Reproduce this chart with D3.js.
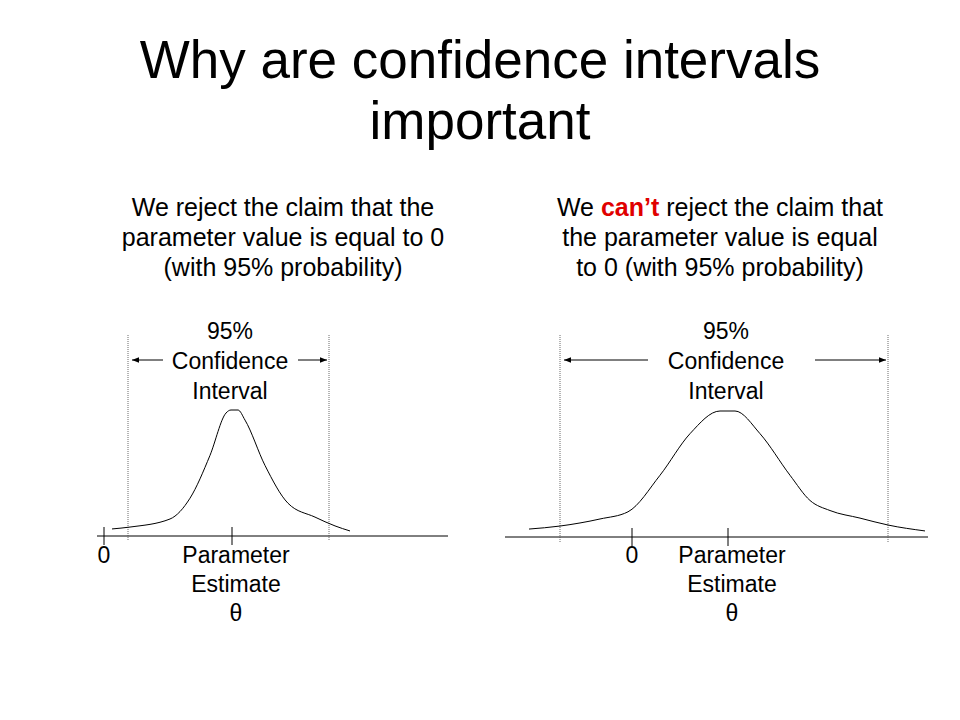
<!DOCTYPE html>
<html><head><meta charset="utf-8">
<script src="https://cdn.jsdelivr.net/npm/d3@7"></script>
<style>body{margin:0;background:#fff}text{font-family:Arial,"Liberation Sans",sans-serif;fill:#000}</style>
</head><body><div id="vis"></div>
<script>
// curve points: offset from the estimate (in tens of px units) and relative height
var leftX = [-12, -10.2, -6.2, -4.2, -2.2, -0.6, -0.1, 0.6, 1.3, 3.3, 5.6, 8.3, 10.3, 11.8];
var leftY = [0.056, 0.071, 0.135, 0.30, 0.64, 0.976, 1, 1, 0.92, 0.56, 0.26, 0.15, 0.08, 0.04];
var rightX = [-19.9, -16.8, -12.8, -10, -6.8, -3.8, -0.8, 0.7, 3.2, 6.2, 8.2, 10.2, 13.2, 16, 19.7];
var rightY = [0.063, 0.087, 0.143, 0.2, 0.49, 0.82, 1, 1, 0.82, 0.49, 0.29, 0.21, 0.15, 0.095, 0.048];
var leftCI = [-10.4, 9.7], rightCI = [-16.8, 16];
var leftZero = -12.8, rightZero = -9.6;

var svg = d3.select("#vis").append("svg").attr("width", 960).attr("height", 720);
svg.append("defs").append("marker").attr("id", "arr").attr("viewBox", "0 0 10 10")
  .attr("refX", 10).attr("refY", 5).attr("markerWidth", 9).attr("markerHeight", 7)
  .attr("markerUnits", "userSpaceOnUse").attr("orient", "auto-start-reverse")
  .append("path").attr("d", "M0,1L10,5L0,9z").attr("fill", "#000");

svg.append("text").attr("x", 480).attr("y", 78).attr("text-anchor", "middle").attr("font-size", 53).text("Why are confidence intervals");
svg.append("text").attr("x", 480).attr("y", 139).attr("text-anchor", "middle").attr("font-size", 53).text("important");

function sub(cx, lines) {
  lines.forEach(function (l, i) {
    var t = svg.append("text").attr("x", cx).attr("y", 216 + i * 30).attr("text-anchor", "middle").attr("font-size", 25);
    l.forEach(function (p) { t.append("tspan").text(p[0]).attr("font-weight", p[1] ? "bold" : null).style("fill", p[1] ? "#e00000" : null); });
  });
}
sub(283, [[["We reject the claim that the"]], [["parameter value is equal to 0"]], [["(with 95% probability)"]]]);
sub(720, [[["We "], ["can’t", 1], [" reject the claim that"]], [["the parameter value is equal"]], [["to 0 (with 95% probability)"]]]);

function panel(xs, ys, domain, range, ci, zero, base, arrowGaps) {
  var x = d3.scaleLinear().domain(domain).range(range);
  var y = d3.scaleLinear().domain([0, 1]).range([base, base - 126]);
  var g = svg.append("g");
  g.append("line").attr("x1", range[0]).attr("x2", range[1]).attr("y1", base).attr("y2", base).attr("stroke", "#000");
  [zero, 0].forEach(function (v) {
    g.append("line").attr("x1", x(v)).attr("x2", x(v)).attr("y1", base - 9).attr("y2", base + 9).attr("stroke", "#000");
  });
  ci.forEach(function (v) {
    g.append("line").attr("x1", x(v)).attr("x2", x(v)).attr("y1", 335).attr("y2", base + 5)
      .attr("stroke", "#444").attr("stroke-width", 0.8).attr("stroke-dasharray", "1,1");
  });
  var line = d3.line().x(function (d) { return x(d[0]); }).y(function (d) { return y(d[1]); }).curve(d3.curveMonotoneX);
  g.append("path").datum(d3.zip(xs, ys)).attr("d", line).attr("fill", "none").attr("stroke", "#000").attr("stroke-width", 1);
  var cx = x(0);
  g.append("line").attr("x1", cx - arrowGaps[0]).attr("x2", x(ci[0]) + 4).attr("y1", 360).attr("y2", 360).attr("stroke", "#000").attr("marker-end", "url(#arr)");
  g.append("line").attr("x1", cx + arrowGaps[1]).attr("x2", x(ci[1]) - 2).attr("y1", 360).attr("y2", 360).attr("stroke", "#000").attr("marker-end", "url(#arr)");
  ["95%", "Confidence", "Interval"].forEach(function (t, i) {
    g.append("text").attr("x", cx - 2).attr("y", 339 + i * 30).attr("text-anchor", "middle").attr("font-size", 23).text(t);
  });
  g.append("text").attr("x", x(zero)).attr("y", 563).attr("text-anchor", "middle").attr("font-size", 23).text("0");
  ["Parameter", "Estimate", "θ"].forEach(function (t, i) {
    g.append("text").attr("x", cx + 4).attr("y", 563 + i * 29).attr("text-anchor", "middle").attr("font-size", 23).text(t);
  });
}
panel(leftX, leftY, [-13.5, 21.6], [97, 448], leftCI, leftZero, 536, [69, 66]);
panel(rightX, rightY, [-22.3, 20], [505, 928], rightCI, rightZero, 537, [80, 87]);
</script></body></html>
